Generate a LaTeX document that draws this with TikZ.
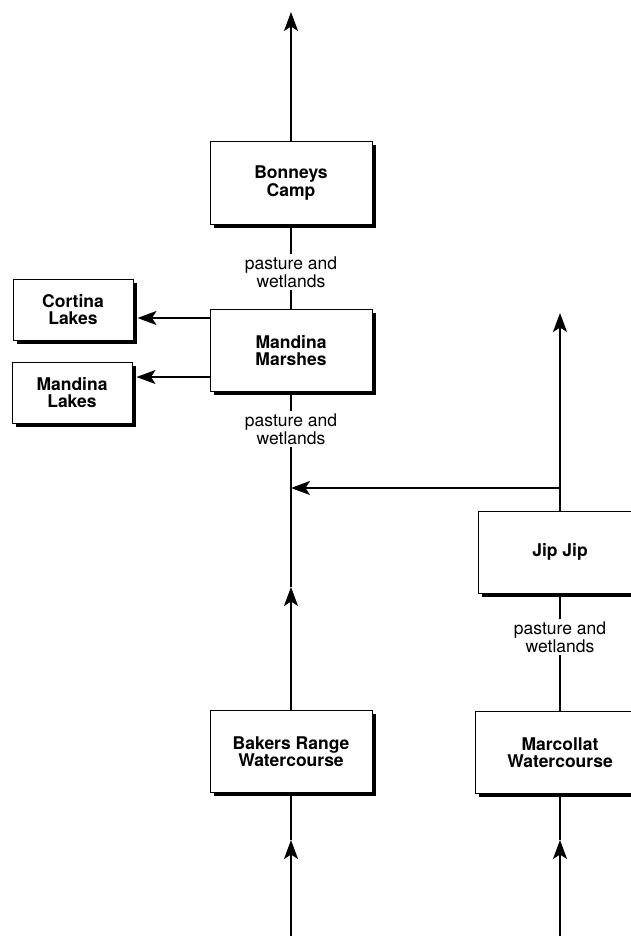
\documentclass[tikz,border=0pt]{standalone}
\usepackage{fontspec}
\setmainfont{TeX Gyre Heros}
\usetikzlibrary{arrows.meta,shadows}

\tikzset{
  site/.style={draw, line width=1pt, fill=white, align=center,
    font=\fontsize{17.5}{17.5}\selectfont\bfseries,
    minimum width=162pt, minimum height=82pt,
    drop shadow={shadow xshift=3.5pt, shadow yshift=-3.5pt, fill=black, opacity=1}},
  lake/.style={site, minimum width=120pt, minimum height=61pt},
  land/.style={align=center, inner sep=2pt, font=\fontsize{17.5}{18}\selectfont},
  link/.style={line width=1.4pt},
  flow/.style={link, -{Stealth[length=19pt,width=14pt,inset=4.5pt]}}
}

\begin{document}
\begin{tikzpicture}[x=1pt,y=-1pt]
\useasboundingbox (0,0) rectangle (631,936);

\node (bonneys) [site] at (291,183) {Bonneys\\Camp};
\node (lab1) [land] at (291,272) {pasture and\\wetlands};
\node (marshes) [site] at (291,350.5) {Mandina\\Marshes};
\node (cortina) [lake] at (73,309.5) {Cortina\\Lakes};
\node (mlakes) [lake] at (72,392.5) {Mandina\\Lakes};
\node (lab2) [land] at (291,429) {pasture and\\wetlands};
\node (jipjip) [site, minimum width=164pt] at (560,552) {Jip Jip};
\node (lab3) [land] at (560,637) {pasture and\\wetlands};
\node (bakers) [site] at (291,751.5) {Bakers Range\\Watercourse};
\node (marcollat) [site, minimum width=170pt] at (560,752.5) {Marcollat\\Watercourse};

\coordinate (top) at (291,12);
\coordinate (c1) at ([yshift=32.5pt]marshes.west);
\coordinate (c2) at ([yshift=-26.5pt]marshes.west);
\coordinate (rtop) at (560,313);
\coordinate (split) at (560,488);
\coordinate (join) at (291,488);
\coordinate (bmid) at (291,587);
\coordinate (in1) at (291,940);
\coordinate (in1m) at (291,840);
\coordinate (in2) at (560,940);
\coordinate (in2m) at (560,840);

\draw[flow] (bonneys) -- (top);
\draw[link] (lab1) -- (bonneys);
\draw[link] (marshes) -- (lab1);
\draw[flow, shorten >=4pt] (c1) -- (c1 -| cortina.east);
\draw[flow, shorten >=4pt] (c2) -- (c2 -| mlakes.east);
\draw[link] (lab2) -- (marshes);
\draw[flow] (bakers) -- (bmid);
\draw[link] (bmid) -- (lab2);
\draw[flow] (split) -- (join);
\draw[flow] (jipjip) -- (rtop);
\draw[link] (lab3) -- (jipjip);
\draw[link] (marcollat) -- (lab3);
\draw[flow] (in1) -- (in1m);
\draw[link] (in1m) -- (bakers);
\draw[flow] (in2) -- (in2m);
\draw[link] (in2m) -- (marcollat);

\end{tikzpicture}
\end{document}
